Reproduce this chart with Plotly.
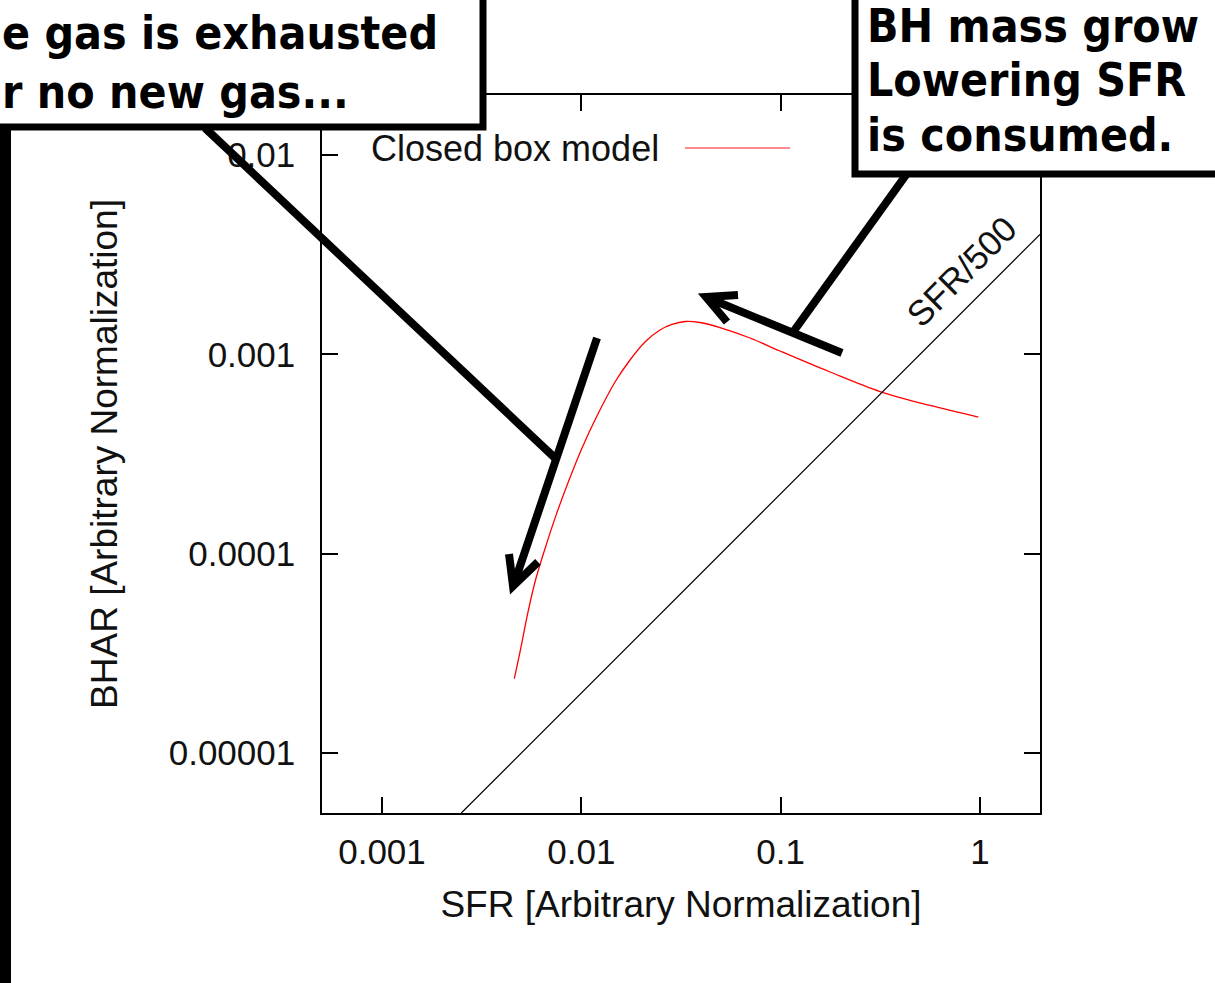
import plotly.graph_objects as go
import math

# ---- data ----
sfr = [0.004611, 0.004963, 0.005357, 0.005855, 0.006572, 0.007462, 0.008601,
       0.010044, 0.012026, 0.014755, 0.017544, 0.020861, 0.024806, 0.028497,
       0.033126, 0.039389, 0.049619, 0.070195, 0.099241, 0.17681, 0.31504,
       0.56148, 0.9804]
bhar = [2.360e-5, 3.336e-5, 4.906e-5, 7.210e-5, 1.059e-4, 1.557e-4, 2.288e-4,
        3.362e-4, 4.943e-4, 7.263e-4, 9.366e-4, 1.1531e-3, 1.3245e-3, 1.4116e-3,
        1.4613e-3, 1.4443e-3, 1.3632e-3, 1.2078e-3, 1.0392e-3, 8.154e-4, 6.509e-4,
        5.538e-4, 4.848e-4]
ref_sfr = [0.0025, 2.0]
ref_bhar = [5e-6, 0.004]

x_tickvals = [0.001, 0.01, 0.1, 1]
x_ticktext = ["0.001", "0.01", "0.1", "1"]
y_tickvals = [0.01, 0.001, 0.0001, 0.00001]
y_ticktext = ["0.01", "0.001", "0.0001", "0.00001"]
x_range = [0.0005, 2.0]
y_range = [5e-6, 0.02]

W, H = 1215, 983
L, R, T, B = 322, 1040, 95, 813


def px(x):
    return (x - L) / (R - L)


def py(y):
    return (B - y) / (B - T)


fig = go.Figure()
fig.add_trace(go.Scatter(x=sfr, y=bhar, mode="lines",
                         line=dict(color="red", width=1.3, shape="spline", smoothing=1.0),
                         name="Closed box model", showlegend=False))
fig.add_trace(go.Scatter(x=ref_sfr, y=ref_bhar, mode="lines", line=dict(color="black", width=1.2),
                         name="SFR/500", showlegend=False))

TF = "Liberation Sans, Arial, sans-serif"
BF = "DejaVu Sans Condensed, DejaVu Sans, sans-serif"

shapes = []
# legend sample
shapes.append(dict(type="line", xref="paper", yref="paper", x0=px(685), x1=px(790), y0=py(148), y1=py(148),
                   line=dict(color="#ff8c8c", width=2), layer="above"))
# left callout box
shapes.append(dict(type="rect", xref="paper", yref="paper", x0=px(-20), x1=px(483), y0=py(-20), y1=py(127),
                   line=dict(color="black", width=7), fillcolor="white", layer="above"))
# right callout box
shapes.append(dict(type="rect", xref="paper", yref="paper", x0=px(855), x1=px(1240), y0=py(-20), y1=py(174),
                   line=dict(color="black", width=7), fillcolor="white", layer="above"))
# left black bar
shapes.append(dict(type="rect", xref="paper", yref="paper", x0=px(-10), x1=px(11), y0=py(1000), y1=py(124),
                   line=dict(width=0), fillcolor="black", layer="above"))


def seg(x0, y0, x1, y1, w=8):
    return dict(type="line", xref="paper", yref="paper", x0=px(x0), y0=py(y0), x1=px(x1), y1=py(y1),
                line=dict(color="black", width=w), layer="above")


def head(pts, w=8):
    d = "M " + " L ".join(f"{px(a):.5f},{py(b):.5f}" for a, b in pts)
    return dict(type="path", xref="paper", yref="paper", path=d,
                line=dict(color="black", width=w), layer="above")


shapes.append(seg(205, 128, 555, 458))
shapes.append(seg(597, 338, 514, 584))
shapes.append(head([(509, 554), (513, 586), (538, 562)]))
shapes.append(seg(906, 175, 791, 335))
shapes.append(seg(842, 353, 708, 298))
shapes.append(head([(738, 295), (706, 297), (727, 322)]))

ann = []
ann.append(dict(xref="paper", yref="paper", x=px(369), y=py(148), xanchor="left", yanchor="middle",
                text="Closed box model", showarrow=False, font=dict(family=TF, size=36, color="#111")))
ann.append(dict(xref="paper", yref="paper", x=px(961), y=py(271), xanchor="center", yanchor="middle",
                text="SFR/500", textangle=-45, showarrow=False, font=dict(family=TF, size=35, color="#111")))
for txt, xl, yc, fs in [("e gas is exhausted", 1, 33, 46), ("r no new gas...", 1, 92, 46),
                        ("BH mass grow", 866, 26, 46), ("Lowering SFR", 866, 80, 46),
                        ("is consumed.", 866, 135, 46)]:
    ann.append(dict(xref="paper", yref="paper", x=px(xl), y=py(yc), xanchor="left", yanchor="middle",
                    text=f"<b>{txt}</b>", showarrow=False, borderpad=0,
                    font=dict(family=BF, size=fs, color="black")))

axis_common = dict(type="log", showgrid=False, zeroline=False, showline=True, linecolor="black", linewidth=1.5,
                   ticks="inside", ticklen=16, tickwidth=1.5, tickcolor="black", mirror="ticks",
                   tickfont=dict(family=TF, size=35, color="#111"))

fig.update_layout(
    width=W, height=H, autosize=False,
    margin=dict(l=L, r=W - R, t=T, b=H - B, autoexpand=False),
    paper_bgcolor="white", plot_bgcolor="white",
    xaxis=dict(axis_common, range=[math.log10(x_range[0]), math.log10(x_range[1])],
               tickvals=x_tickvals, ticktext=x_ticktext, ticklabelstandoff=7,
               title=dict(text="SFR [Arbitrary Normalization]", font=dict(family=TF, size=37, color="#111"),
                          standoff=21)),
    yaxis=dict(axis_common, range=[math.log10(y_range[0]), math.log10(y_range[1])],
               tickvals=y_tickvals, ticktext=y_ticktext, ticklabelstandoff=18,
               title=dict(text="BHAR [Arbitrary Normalization]", font=dict(family=TF, size=37, color="#111"),
                          standoff=40)),
    shapes=shapes, annotations=ann, showlegend=False,
)

fig.write_html("out.html")
